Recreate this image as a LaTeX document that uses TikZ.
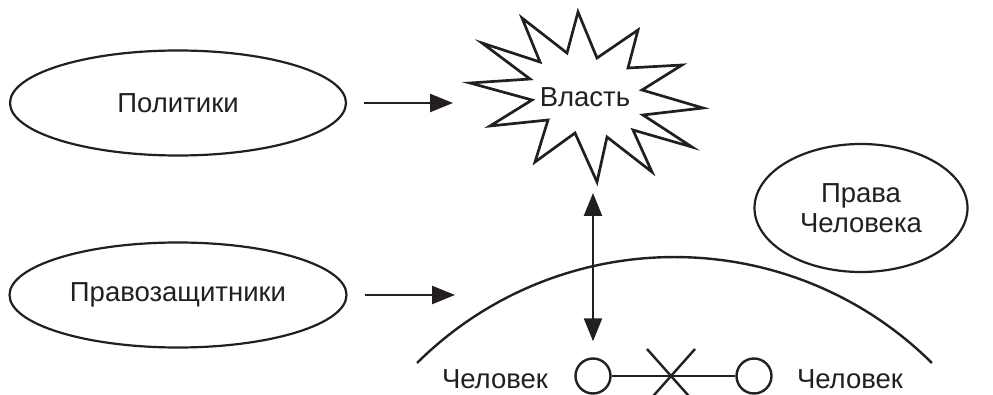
\documentclass[tikz,border=0pt]{standalone}
\usepackage{fontspec}
\setmainfont{Liberation Sans}
\usetikzlibrary{shapes.geometric,arrows.meta}
\definecolor{ink}{HTML}{231F20}
\begin{document}
\begin{tikzpicture}[x=1pt,y=-1pt,
  every node/.style={text=ink,font=\fontsize{27.5}{30}\selectfont},
  oval/.style={draw=ink,line width=2.2pt,ellipse,inner sep=0pt},
  lin/.style={draw=ink,line width=2.4pt},
  arr/.style={lin,-{Triangle[length=23pt,width=18pt]}},
  darr/.style={lin,{Triangle[length=23pt,width=18pt]}-{Triangle[length=23pt,width=18pt]}},
  ring/.style={circle,draw=ink,line width=2.4pt,minimum size=35pt,inner sep=0pt}]
\useasboundingbox (0,0) rectangle (993,395);
% ellipses
\node[oval,minimum width=336pt,minimum height=105pt] (pol) at (178,103) {Политики};
\node[oval,minimum width=337pt,minimum height=105pt] (prav) at (178,295) {Правозащитники};
\node[oval,minimum width=213pt,minimum height=128pt,align=center] (hr) at (861,208) {Права\\Человека};
% starburst
\draw[lin,line width=2.7pt,line join=miter] (578,12) -- (597,58) -- (638,30) -- (628,68) -- (682,65) -- (642,90)
  -- (703,108) -- (643,115) -- (692,147) -- (633,130) -- (652,172) -- (607,137)
  -- (597,182) -- (575,133) -- (535,162) -- (548,120) -- (490,126) -- (532,100)
  -- (470,83) -- (530,79) -- (482,43) -- (540,62) -- (522,18) -- (567,53) -- cycle;
\node (power) at (585,97) {Власть};
\coordinate (starb) at (593,182);
% arc
\draw[lin] (417,363) arc[start angle=134.74,end angle=45.26,radius=365.8pt];
% arrows
\coordinate (a1) at (453,103);
\coordinate (a2) at (455,295);
\draw[arr,shorten <=17pt] (pol.east) -- (a1);
\draw[arr,shorten <=17pt] (prav.east) -- (a2);
% people
\node[ring] (c1) at (593,376) {};
\node[ring] (c2) at (754,376) {};
\node (h1) at (495,379) {Человек};
\node (h2) at (850,379) {Человек};
\draw[lin] (c1) -- (c2);
\coordinate (x1) at (647,349);
\coordinate (x2) at (695,403);
\coordinate (x3) at (695,349);
\coordinate (x4) at (647,403);
\draw[lin] (x1) -- (x2);
\draw[lin] (x3) -- (x4);
\draw[darr,shorten <=11pt,shorten >=16pt] (starb) -- (c1.north);
\end{tikzpicture}
\end{document}
